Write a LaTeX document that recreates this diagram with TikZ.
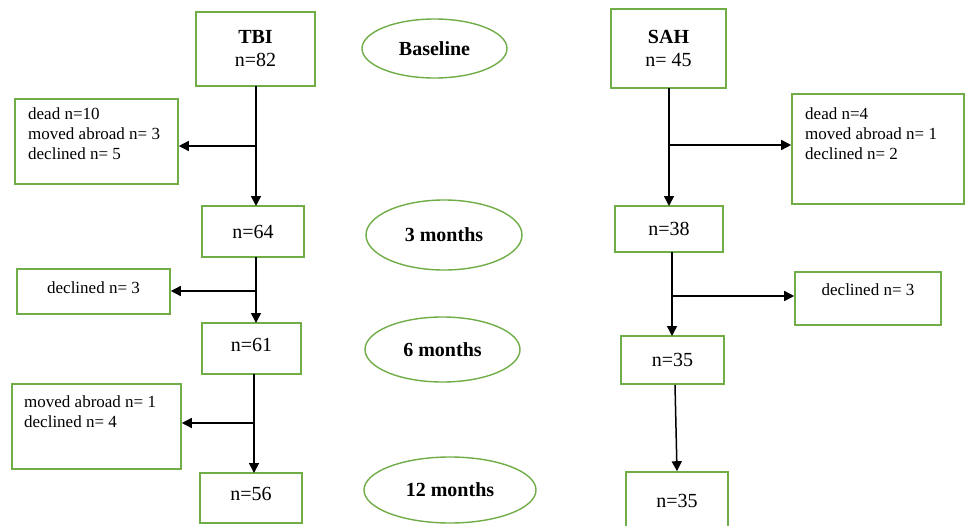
\documentclass[tikz,border=0pt]{standalone}
\usepackage{fontspec}
\setmainfont{Liberation Serif}
\usetikzlibrary{arrows.meta,shapes.geometric}
\definecolor{boxgreen}{RGB}{112,173,71}
\tikzset{
  box/.style={draw=boxgreen,line width=1.6pt,rectangle,inner sep=0pt,align=center,font=\fontsize{20}{23}\selectfont},
  oval/.style={draw=boxgreen,line width=1.4pt,ellipse,inner sep=0pt,font=\fontsize{20}{23}\selectfont\bfseries},
  small/.style={inner sep=0pt,align=left,font=\fontsize{17}{20}\selectfont},
  arr/.style={line width=1.5pt,-{Triangle[length=10pt,width=10pt]}},
  ln/.style={line width=1.5pt}
}
\begin{document}
\begin{tikzpicture}[x=1pt,y=-1pt]
\clip (0,0) rectangle (966,525);
\fill[white] (0,0) rectangle (966,525);
% time points
\node[oval,minimum width=145,minimum height=59] (base) at (434.5,48.5) {Baseline};
\node[oval,minimum width=156,minimum height=70] (m3) at (444,235) {3 months};
\node[oval,minimum width=155,minimum height=65] (m6) at (442.5,349.5) {6 months};
\node[oval,minimum width=172,minimum height=66] (m12) at (450,490) {12 months};
% TBI column
\node[box,minimum width=119,minimum height=74] (tbi) at (255.5,49) {\textbf{TBI}\\n=82};
\node[box,minimum width=163,minimum height=85] (tl1) at (96.5,141.5) {};
\node[small,anchor=north west] (tl1t) at (28,108) {dead n=10\\moved abroad n= 3\\declined n= 5};
\node[box,minimum width=102,minimum height=51] (n64) at (253,231.5) {n=64};
\node[box,minimum width=153,minimum height=45] (tl2) at (93.5,291.5) {};
\node[small] (tl2t) at (93.5,288) {declined n= 3};
\node[box,minimum width=99,minimum height=51] (n61) at (251.5,348.5) {};
\node[inner sep=0pt,font=\fontsize{20}{23}\selectfont] (n61t) at (251.5,345) {n=61};
\node[box,minimum width=169,minimum height=85] (tl3) at (96.5,426.5) {};
\node[small,anchor=north west] (tl3t) at (24,395) {moved abroad n= 1\\declined n= 4};
\node[box,minimum width=102,minimum height=50] (n56) at (251,498) {};
\node[inner sep=0pt,font=\fontsize{20}{23}\selectfont] (n56t) at (251,494) {n=56};
% SAH column
\node[box,minimum width=115,minimum height=79] (sah) at (668.5,48.5) {\textbf{SAH}\\n= 45};
\node[box,minimum width=172,minimum height=110] (sr1) at (878,149) {};
\node[small,anchor=north west] (sr1t) at (805,108) {dead n=4\\moved abroad n= 1\\declined n= 2};
\node[box,minimum width=108,minimum height=46] (n38) at (669,229) {n=38};
\node[box,minimum width=146,minimum height=53] (sr2) at (868,298.5) {};
\node[small] (sr2t) at (868,290) {declined n= 3};
\node[box,minimum width=103,minimum height=48] (n35a) at (672.5,360) {n=35};
\node[box,minimum width=102,minimum height=58] (n35b) at (677,501) {n=35};
% TBI connectors
\coordinate (tb1) at (256,146);
\draw[arr] (256,86) -- (256,206);
\draw[arr] (tb1) -- (tl1.east |- tb1);
\coordinate (tb2) at (256,291);
\draw[arr] (256,257) -- (256,323);
\draw[arr] (tb2) -- (tl2.east |- tb2);
\coordinate (tb3) at (254,423);
\draw[arr] (254,374) -- (254,473);
\draw[arr] (tb3) -- (tl3.east |- tb3);
% SAH connectors
\coordinate (sb1) at (669,145);
\draw[arr] (669,88) -- (669,206);
\draw[arr] (sb1) -- (sr1.west |- sb1);
\coordinate (sb2) at (672,296);
\draw[arr] (672,252) -- (672,336);
\draw[arr] (sb2) -- (sr2.west |- sb2);
\draw[arr] (n35a.south) ++(2.5,0) coordinate (s35) -- (n35b.north);
\end{tikzpicture}
\end{document}
